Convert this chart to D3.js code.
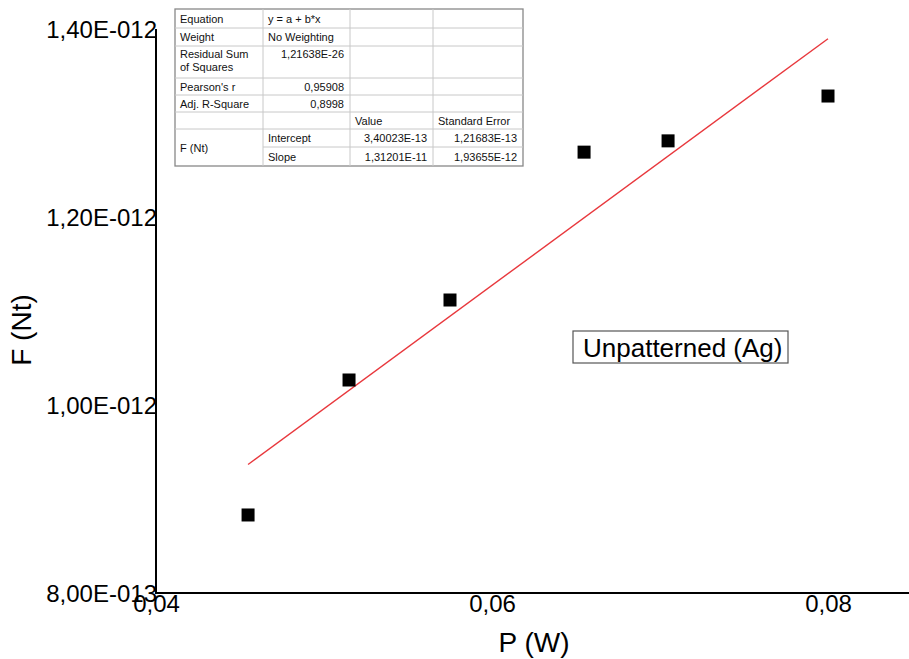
<!DOCTYPE html>
<html><head><meta charset="utf-8">
<script src="https://cdn.jsdelivr.net/npm/d3@7"></script>
<style>body{margin:0;background:#fff}svg{display:block;font-family:"Liberation Sans",Arial,sans-serif}</style>
</head><body><svg id="c" width="909" height="659"></svg>
<script>
const powerW = [0.04548, 0.05149, 0.0575, 0.06548, 0.07048, 0.0800];
const forceNt = [0.883e-12, 1.0266e-12, 1.1117e-12, 1.269e-12, 1.281e-12, 1.3287e-12];
const fitIntercept = 3.40023e-13;
const fitSlope = 1.31201e-11;
const xTicks = [0.04, 0.06, 0.08];
const xTickLabels = ["0,04", "0,06", "0,08"];
const yTicks = [0.8e-12, 1.0e-12, 1.2e-12, 1.4e-12];
const yTickLabels = ["8,00E-013", "1,00E-012", "1,20E-012", "1,40E-012"];
const tableRows = [
  ["Equation", "y = a + b*x", "", ""],
  ["Weight", "No Weighting", "", ""],
  ["Residual Sum\nof Squares", "1,21638E-26", "", ""],
  ["Pearson's r", "0,95908", "", ""],
  ["Adj. R-Square", "0,8998", "", ""],
  ["", "", "Value", "Standard Error"],
  ["F (Nt)", "Intercept", "3,40023E-13", "1,21683E-13"],
  ["", "Slope", "1,31201E-11", "1,93655E-12"]
];
const labelText = "Unpatterned (Ag)";

const svg = d3.select("#c");
const x = d3.scaleLinear().domain([0.04, 0.08]).range([156, 828]);
const y = d3.scaleLinear().domain([0.8e-12, 1.4e-12]).range([593, 29]);

// axes
const xAxis = d3.axisBottom(x).tickValues(xTicks).tickSize(0).tickFormat((d,i)=>xTickLabels[i]);
const gx = svg.append("g").attr("transform","translate(0,593)").call(xAxis);
gx.select(".domain").remove();
gx.selectAll("text").attr("font-size",24).attr("fill","#000").attr("dy",null).attr("y",19).attr("font-family","Liberation Sans, Arial, sans-serif");
svg.append("line").attr("x1",155).attr("x2",909).attr("y1",593).attr("y2",593).attr("stroke","#000").attr("stroke-width",2);

const yAxis = d3.axisLeft(y).tickValues(yTicks).tickSize(0).tickFormat((d,i)=>yTickLabels[i]);
const gy = svg.append("g").attr("transform","translate(155,0)").call(yAxis);
gy.select(".domain").remove();
gy.selectAll("text").attr("font-size",24).attr("fill","#000").attr("x",2).attr("dy","0.35em").attr("font-family","Liberation Sans, Arial, sans-serif");
svg.append("line").attr("x1",156).attr("x2",156).attr("y1",29).attr("y2",594).attr("stroke","#000").attr("stroke-width",2);

// titles
svg.append("text").attr("x",534).attr("y",652).attr("text-anchor","middle").attr("font-size",28).text("P (W)");
svg.append("text").attr("transform","translate(31,330) rotate(-90)").attr("text-anchor","middle").attr("font-size",28).text("F (Nt)");

// fit line
const fx = d3.extent(powerW);
svg.append("line")
  .attr("x1",x(fx[0])).attr("y1",y(fitIntercept+fitSlope*fx[0]))
  .attr("x2",x(fx[1])).attr("y2",y(fitIntercept+fitSlope*fx[1]))
  .attr("stroke","#e8383d").attr("stroke-width",1.4);

// points
const ms = 13;
svg.selectAll("rect.pt").data(powerW).join("rect").attr("class","pt")
  .attr("x",(d)=>x(d)-ms/2).attr("y",(d,i)=>y(forceNt[i])-ms/2)
  .attr("width",ms).attr("height",ms).attr("fill","#000");

// label box
svg.append("rect").attr("x",573).attr("y",331).attr("width",215).attr("height",32).attr("fill","#fff").attr("stroke","#555").attr("stroke-width",1.2);
svg.append("text").attr("x",583).attr("y",357).attr("font-size",26).text(labelText);

// stats table
const colX = [175, 263, 350, 433, 523];
const rowY = [9, 28, 46, 78, 95, 112, 129, 147, 166];
const tg = svg.append("g").attr("font-size",11).attr("fill","#111");
tg.append("rect").attr("x",colX[0]).attr("y",rowY[0]).attr("width",colX[4]-colX[0]).attr("height",rowY[8]-rowY[0]).attr("fill","#fff").attr("stroke","#888").attr("stroke-width",1.3);
for (let c=1;c<4;c++) tg.append("line").attr("x1",colX[c]).attr("x2",colX[c]).attr("y1",rowY[0]).attr("y2",rowY[8]).attr("stroke","#c8c8c8");
for (let r=1;r<8;r++) {
  const x1 = (r===7) ? colX[1] : colX[0];
  tg.append("line").attr("x1",x1).attr("x2",colX[4]).attr("y1",rowY[r]).attr("y2",rowY[r]).attr("stroke","#c8c8c8");
}
const rightAlign = (r,c) => (r>=2 && r<=4 && c===1) || (r>=6 && c>=2);
tableRows.forEach((row,r)=>{
  row.forEach((txt,c)=>{
    if (!txt) return;
    let top = rowY[r], bot = rowY[r+1];
    if (r===6 && c===0) bot = rowY[8];
    const lines = txt.split("\n");
    const right = rightAlign(r,c);
    const t = tg.append("text")
      .attr("x", right ? colX[c+1]-6 : colX[c]+5)
      .attr("text-anchor", right ? "end" : "start");
    if (r===2) {
      lines.forEach((l,k)=>t.append("tspan").attr("x", right ? colX[c+1]-6 : colX[c]+5).attr("y", top+12+k*12.5).text(l));
    } else {
      t.attr("y",(top+bot)/2+4).text(txt);
    }
  });
});
</script></body></html>
